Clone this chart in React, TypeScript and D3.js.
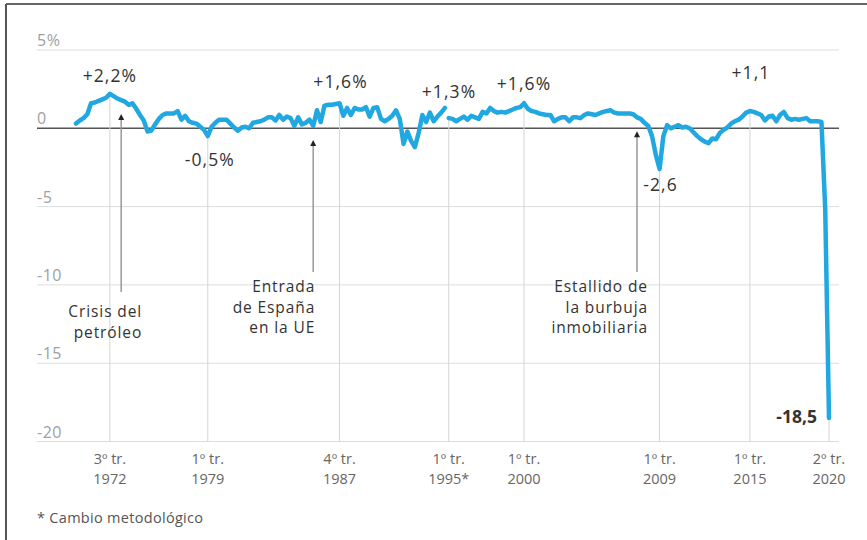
import React from 'react';
import { scaleLinear, line } from 'd3';

// PIB de España, variación trimestral (%), desde el 2º tr. de 1970
const serie1970s = [0.3, 0.5, 0.65, 0.9, 1.6, 1.65, 1.75, 1.85, 1.95, 2.2, 2.05, 1.9, 1.8, 1.7, 1.5, 1.6, 1.25, 0.85, 0.5, -0.2, -0.15, 0.25, 0.6, 0.85, 0.95, 0.95, 0.95, 1.1, 0.55, 0.8, 0.45, 0.35, 0.3, 0.1, -0.1, -0.5, 0.1, 0.35, 0.55];
const serie1980s = [0.55, 0.55, 0.3, 0.05, -0.15, 0.05, 0.1, 0.0, 0.35, 0.4, 0.45, 0.55, 0.7, 0.7, 0.5, 0.85, 0.55, 0.75, 0.65, 0.15, 0.7, 0.25, 0.35, 0.55, 0.15, 1.15, 0.4, 1.45, 1.5, 1.5, 1.55, 1.6, 0.8, 1.3, 0.85, 1.3, 1.2, 1.2, 1.35, 0.75];
const serie1990s = [1.3, 1.35, 0.6, 0.45, 0.6, 0.8, 1.15, 0.6, -1.0, -0.2, -0.8, -1.2, -0.3, 0.85, 0.4, 1.0, 0.45, 0.75, 1.0, 1.3];
// cambio metodológico a partir del 1º tr. de 1995
const serie1995s = [0.65, 0.6, 0.45, 0.6, 0.75, 0.55, 0.8, 0.7, 0.6, 1.05, 0.95, 1.3, 1.1, 1.0, 1.05, 1.0, 1.1, 1.2, 1.3, 1.35];
const serie2000s = [1.6, 1.25, 1.1, 1.05, 0.95, 0.9, 0.85, 0.85, 0.45, 0.6, 0.7, 0.7, 0.45, 0.7, 0.7, 0.65, 0.85, 0.95, 0.9, 0.85, 0.95, 1.05, 1.1, 1.15, 1.0, 0.95, 0.95, 0.95, 0.95, 0.9, 0.7, 0.6, 0.35, 0.15, -0.5, -1.7, -2.6, -0.5, 0.2, 0.0];
const serie2010s = [0.1, 0.2, 0.05, 0.1, 0.0, -0.25, -0.5, -0.7, -0.85, -0.95, -0.65, -0.7, -0.3, -0.1, 0.05, 0.3, 0.45, 0.55, 0.75, 1.0, 1.1, 1.05, 0.95, 0.85, 0.5, 0.75, 0.8, 0.45, 0.85, 1.05, 0.65, 0.55, 0.6, 0.55, 0.6, 0.65, 0.45, 0.45, 0.45, 0.4];
const serie2020 = [-5.2, -18.5];

const inicio1 = 1970.25;
const inicio2 = 1995;

const yTicks = [5, 0, -5, -10, -15, -20];
const xTickDates = [1972.5, 1979, 1987.75, 1995, 2000, 2009, 2015, 2020.25];
const xTickTrim = ['3º tr.', '1º tr.', '4º tr.', '1º tr.', '1º tr.', '1º tr.', '1º tr.', '2º tr.'];
const xTickYears = ['1972', '1979', '1987', '1995*', '2000', '2009', '2015', '2020'];

const valueDates = [1972.5, 1979, 1987.75, 1994.75, 2000, 2009, 2015, 2020.25];
const valueLabels = ['+2,2%', '-0,5%', '+1,6%', '+1,3%', '+1,6%', '-2,6', '+1,1', '-18,5'];
const valueOffsets = [[0, -12], [2, 30], [1, -15], [4, -10], [0, -13], [1, 22], [1, -32], [-12, 5]];

const eventDates = [1973.25, 1986, 2007.5];
const eventLines = [['Crisis del', 'petróleo'], ['Entrada', 'de España', 'en la UE'], ['Estallido de', 'la burbuja', 'inmobiliaria']];
const eventBottoms = [292, 272, 272];
const eventTextX = [21, 2, 11];
const eventTextY = [317, 292, 292];

const W = 867;
const H = 540;
const blue = '#22a8e0';
const font = '"Open Sans", Roboto, sans-serif';

const toPoints = (vals: number[], start: number) => vals.map((v, i) => ({ t: start + i * 0.25, v }));
const tramo1 = toPoints([...serie1970s, ...serie1980s, ...serie1990s], inicio1);
const tramo2 = toPoints([...serie1995s, ...serie2000s, ...serie2010s, ...serie2020], inicio2);
const todos = [...tramo1, ...tramo2];

const valueAt = (t: number) => {
  let best = todos[0];
  todos.forEach(p => { if (Math.abs(p.t - t) < Math.abs(best.t - t)) best = p; });
  return best.v;
};

export default function App() {
  const x = scaleLinear().domain([1970.25, 2020.25]).range([76, 829]);
  const y = scaleLinear().domain([-20, 5]).range([441.5, 50]);
  const left = 37;
  const right = 839;

  const path = line<{ t: number; v: number }>().x(d => x(d.t)).y(d => y(d.v));

  return (
    <svg width={W} height={H} style={{ position: 'absolute', left: 0, top: 0, background: '#fff' }} fontFamily={font}>
      <rect x={0} y={0} width={W} height={H} fill="#fff" />
      <line x1={6} x2={W} y1={4} y2={4} stroke="#333" strokeWidth={1.5} />
      <line x1={6} x2={6} y1={4} y2={H} stroke="#555" strokeWidth={2} />

      {/* rejilla horizontal */}
      {yTicks.map(v => (
        <g key={v}>
          <line x1={left} x2={right} y1={y(v)} y2={y(v)}
            stroke={v === 0 ? '#555' : '#ddd'} strokeWidth={v === 0 ? 1.6 : 1} />
          <text x={left} y={y(v) - 4} fontSize={16} letterSpacing={0.5} fill="#a0a0a0">{v === 5 ? '5%' : String(v)}</text>
        </g>
      ))}

      {/* rejilla vertical */}
      {xTickDates.map((t, i) => (
        <g key={t}>
          <line x1={x(t)} x2={x(t)} y1={y(valueAt(t))} y2={y(-20)} stroke="#d4d4d4" strokeWidth={1} />
          <text x={x(t)} y={464} textAnchor="middle" fontSize={14.5} fill="#666">{xTickTrim[i]}</text>
          <text x={x(t)} y={484} textAnchor="middle" fontSize={14.5} fill="#666">{xTickYears[i]}</text>
        </g>
      ))}

      {/* eventos */}
      {eventDates.map((t, i) => {
        const ax = x(t);
        const top = y(valueAt(t)) + 14;
        return (
          <g key={t}>
            <line x1={ax} x2={ax} y1={top + 3} y2={eventBottoms[i]} stroke="#999" strokeWidth={1.5} />
            <path d={`M${ax},${top} l-3,6 h6 Z`} fill="#222" />
            {eventLines[i].map((s, j) => (
              <text key={s} x={ax + eventTextX[i]} y={eventTextY[i] + j * 20.7} textAnchor="end"
                fontSize={15.5} letterSpacing={0.9} fill="#333">{s}</text>
            ))}
          </g>
        );
      })}

      <path d={path(tramo1) || ''} fill="none" stroke={blue} strokeWidth={4.5} strokeLinejoin="round" strokeLinecap="round" />
      <path d={path(tramo2) || ''} fill="none" stroke={blue} strokeWidth={4.5} strokeLinejoin="round" strokeLinecap="round" />

      {/* valores destacados */}
      {valueDates.map((t, i) => {
        const last = i === valueDates.length - 1;
        return (
          <text key={i} x={x(t) + valueOffsets[i][0]} y={y(valueAt(t)) + valueOffsets[i][1]}
            textAnchor={last ? 'end' : 'middle'} fontSize={17.5} letterSpacing={last ? 0 : 1.1}
            fontWeight={last ? 700 : 400} fill="#333">
            {valueLabels[i]}
          </text>
        );
      })}

      <text x={left} y={523} fontSize={14.5} letterSpacing={0.3} fill="#555">* Cambio metodológico</text>
    </svg>
  );
}
